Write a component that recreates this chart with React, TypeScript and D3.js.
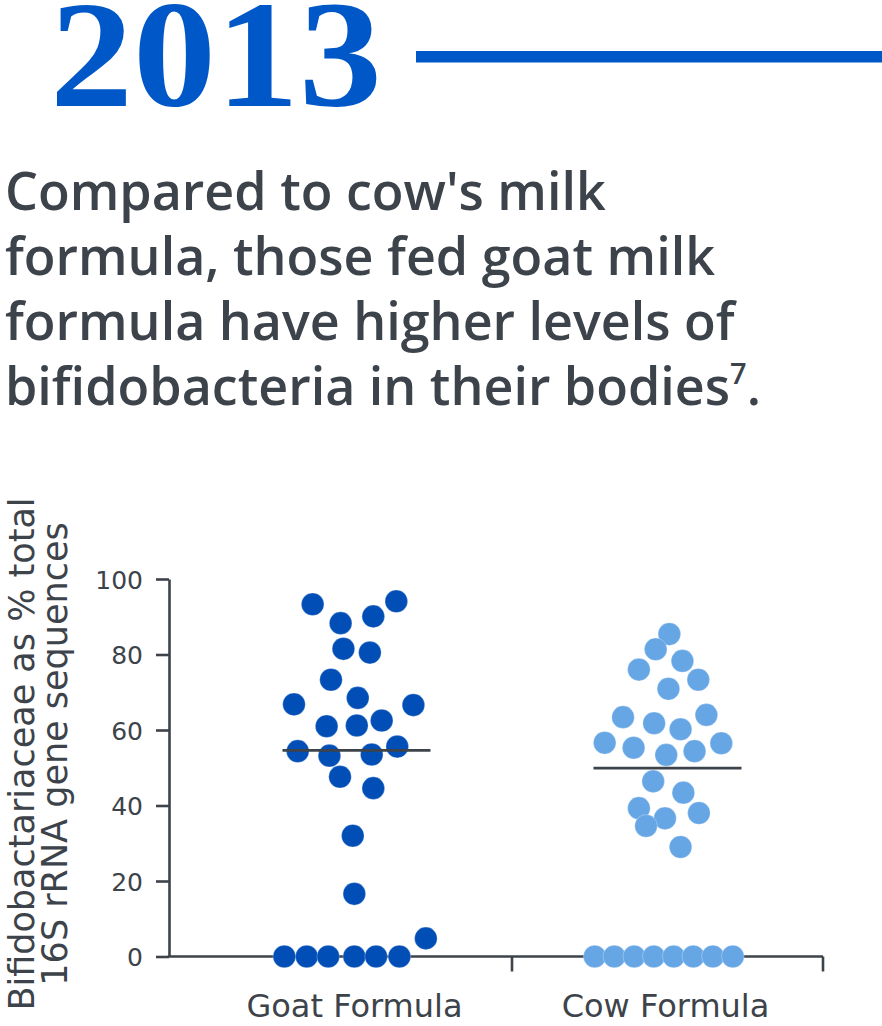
import React, { useEffect, useRef } from "react";
import * as d3 from "d3";

// Chart values
const categories = ["Goat Formula", "Cow Formula"];
const yTicks = [0, 20, 40, 60, 80, 100];

// Goat formula: percent values and horizontal jitter (in category units)
const goatValues = [
  93.3, 94.1, 88.3, 90.1, 81.5, 80.5, 73.3, 68.5, 66.8, 66.6, 61.0, 61.2, 62.5, 54.4,
  53.2, 53.5, 55.6, 47.6, 44.6, 32.0, 16.6, 4.8, 0, 0, 0, 0, 0, 0,
];
const goatJitter = [
  -0.141, 0.128, -0.051, 0.054, -0.042, 0.043, -0.082, 0.004, -0.201, 0.183, -0.096, 0.001,
  0.081, -0.189, -0.087, 0.049, 0.131, -0.053, 0.054, -0.012, -0.007, 0.223, -0.232, -0.16,
  -0.091, -0.007, 0.063, 0.138,
];

// Cow formula
const cowValues = [
  85.4, 81.4, 78.3, 76.0, 73.3, 70.9, 63.4, 64.0, 61.8, 60.2, 56.6, 55.3, 53.4, 54.4, 56.5,
  46.4, 43.4, 39.3, 38.0, 36.6, 34.6, 29.0, 0, 0, 0, 0, 0, 0, 0, 0,
];
const cowJitter = [
  0.006, -0.038, 0.048, -0.092, 0.099, 0.003, -0.143, 0.125, -0.043, 0.042, -0.202, -0.109,
  -0.004, 0.087, 0.173, -0.046, 0.051, -0.092, 0.101, -0.008, -0.069, 0.042, -0.234, -0.171,
  -0.107, -0.044, 0.02, 0.083, 0.146, 0.21,
];

// group means (horizontal lines)
const means = [54.6, 49.9];
const colors = ["#004EB6", "#67A6E5"];

const headline = [
  "Compared to cow's milk",
  "formula, those fed goat milk",
  "formula have higher levels of",
  "bifidobacteria in their bodies",
];

const App: React.FC = () => {
  const ref = useRef<SVGSVGElement>(null);

  useEffect(() => {
    if (!ref.current) return;
    const svg = d3.select(ref.current);
    svg.selectAll("*").remove();

    const textColor = "#3d434a";
    const sans = "'DejaVu Sans', sans-serif";

    // Year header
    svg
      .append("text")
      .attr("x", 50)
      .attr("y", 106)
      .attr("font-family", "'Liberation Serif', serif")
      .attr("font-weight", 700)
      .attr("font-size", 152)
      .attr("textLength", 332)
      .attr("lengthAdjust", "spacingAndGlyphs")
      .attr("fill", "#0058C8")
      .text("2013");

    svg
      .append("rect")
      .attr("x", 416)
      .attr("y", 51)
      .attr("width", 466)
      .attr("height", 11.5)
      .attr("fill", "#0058C8");

    // Headline
    const head = svg
      .append("g")
      .attr("font-family", "'Open Sans', sans-serif")
      .attr("font-weight", 600)
      .attr("font-size", 52)
      .attr("fill", textColor);
    headline.forEach((line, i) => {
      const t = head
        .append("text")
        .attr("x", 5)
        .attr("y", 210 + i * 65)
        .text(line);
      if (i === headline.length - 1) {
        t.append("tspan").attr("font-size", 29).attr("dy", -21).text("7");
        t.append("tspan").attr("dy", 21).text(".");
      }
    });

    // Scales
    const y = d3.scaleLinear().domain([0, 100]).range([956.5, 579]);
    const x = d3.scaleLinear().domain([-0.5, 1.5]).range([201, 823]);
    const axisX = 169;

    const g = svg.append("g").attr("font-family", sans).attr("fill", textColor);

    // y axis
    const yAxis = g
      .append("g")
      .attr("transform", `translate(${axisX},0)`)
      .call(
        d3
          .axisLeft(y)
          .tickValues(yTicks)
          .tickSize(13)
          .tickPadding(13)
          .tickSizeOuter(0)
      );
    yAxis.select(".domain").attr("stroke", textColor).attr("stroke-width", 2.6);
    yAxis.selectAll(".tick line").attr("stroke", textColor).attr("stroke-width", 2.6);
    yAxis
      .selectAll(".tick text")
      .attr("font-family", sans)
      .attr("font-size", 25)
      .attr("fill", textColor)
      .attr("dy", "0.36em");

    // x axis baseline with ticks at category right edges
    g.append("line")
      .attr("x1", axisX - 1.3)
      .attr("x2", x(1.5))
      .attr("y1", y(0))
      .attr("y2", y(0))
      .attr("stroke", textColor)
      .attr("stroke-width", 2.6);
    [0.5, 1.5].forEach((v) => {
      g.append("line")
        .attr("x1", x(v))
        .attr("x2", x(v))
        .attr("y1", y(0))
        .attr("y2", y(0) + 15)
        .attr("stroke", textColor)
        .attr("stroke-width", 2.6);
    });

    categories.forEach((c, i) => {
      g.append("text")
        .attr("x", x(i) - 2)
        .attr("y", 1017)
        .attr("text-anchor", "middle")
        .attr("font-size", 32)
        .text(c);
    });

    // y axis title
    const yTitle = g
      .append("text")
      .attr("transform", "rotate(-90)")
      .attr("text-anchor", "middle")
      .attr("font-size", 35);
    yTitle.append("tspan").attr("x", -754).attr("y", 34).text("Bifidobactariaceae as % total");
    yTitle.append("tspan").attr("x", -754).attr("y", 67).text("16S rRNA gene sequences");

    // dots
    const groups = [
      { values: goatValues, jitter: goatJitter },
      { values: cowValues, jitter: cowJitter },
    ];
    groups.forEach((grp, i) => {
      g.append("g")
        .selectAll("circle")
        .data(grp.values.map((v, k) => ({ v, j: grp.jitter[k] })))
        .join("circle")
        .attr("cx", (d) => x(i + d.j))
        .attr("cy", (d) => y(d.v))
        .attr("r", 11.3)
        .attr("fill", colors[i])
        .attr("stroke", "#ffffff")
        .attr("stroke-opacity", 0.35)
        .attr("stroke-width", 0.8);
    });

    // mean lines
    means.forEach((m, i) => {
      g.append("line")
        .attr("x1", x(i - 0.238))
        .attr("x2", x(i + 0.238))
        .attr("y1", y(m))
        .attr("y2", y(m))
        .attr("stroke", textColor)
        .attr("stroke-width", 2.6);
    });
  }, []);

  return (
    <svg
      ref={ref}
      width={882}
      height={1026}
      style={{ position: "absolute", left: 0, top: 0, background: "#fff" }}
    />
  );
};

export default App;
